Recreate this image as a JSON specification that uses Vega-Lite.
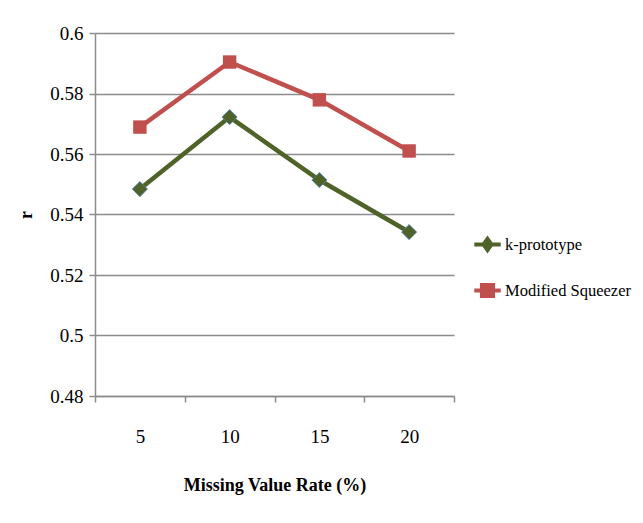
{
  "$schema": "https://vega.github.io/schema/vega-lite/v6.json",
  "width": 359,
  "height": 363,
  "autosize": {"type": "none"},
  "padding": {"left": 95, "top": 33, "right": 189, "bottom": 127},
  "background": "white",
  "config": {
    "view": {"stroke": null},
    "font": "Liberation Serif",
    "axis": {
      "labelFont": "Liberation Serif",
      "titleFont": "Liberation Serif",
      "labelColor": "black",
      "titleColor": "black",
      "domainColor": "#8c8c8c",
      "tickColor": "#8c8c8c",
      "gridColor": "#8c8c8c",
      "domainWidth": 1.5,
      "tickWidth": 1.5,
      "gridWidth": 1.5
    }
  },
  "data": {
    "values": [
      {"rate": "5", "series": "k-prototype", "r": 0.5484},
      {"rate": "10", "series": "k-prototype", "r": 0.5722},
      {"rate": "15", "series": "k-prototype", "r": 0.5514},
      {"rate": "20", "series": "k-prototype", "r": 0.5342},
      {"rate": "5", "series": "Modified Squeezer", "r": 0.5689},
      {"rate": "10", "series": "Modified Squeezer", "r": 0.5904},
      {"rate": "15", "series": "Modified Squeezer", "r": 0.5779},
      {"rate": "20", "series": "Modified Squeezer", "r": 0.5610}
    ]
  },
  "encoding": {
    "x": {
      "field": "rate",
      "type": "ordinal",
      "sort": ["5", "10", "15", "20"],
      "scale": {"paddingInner": 0, "paddingOuter": 0},
      "axis": {
        "title": "Missing Value Rate (%)",
        "titleFontSize": 18,
        "titleFontWeight": "bold",
        "titlePadding": 30,
        "labelFontSize": 19,
        "labelAngle": 0,
        "labelPadding": 25,
        "tickBand": "extent",
        "tickSize": 6,
        "grid": false
      }
    },
    "y": {
      "field": "r",
      "type": "quantitative",
      "scale": {"domain": [0.48, 0.6], "nice": false, "zero": false},
      "axis": {
        "title": "r",
        "titleFontSize": 18,
        "titleFontWeight": "bold",
        "titlePadding": 14,
        "labelFontSize": 19,
        "labelPadding": 6,
        "labelOverlap": false,
        "format": "~g",
        "values": [0.48, 0.5, 0.52, 0.54, 0.56, 0.58, 0.6],
        "tickSize": 6,
        "grid": true
      }
    },
    "color": {
      "field": "series",
      "type": "nominal",
      "scale": {"domain": ["k-prototype", "Modified Squeezer"], "range": ["#4f6228", "#c0504d"]},
      "legend": {
        "title": null,
        "orient": "none",
        "legendX": 377,
        "legendY": 196,
        "labelFontSize": 16.5,
        "labelColor": "black",
        "labelFont": "Liberation Serif",
        "labelLimit": 200,
        "rowPadding": 16,
        "symbolSize": 700,
        "symbolOffset": 0,
        "labelOffset": 2,
        "symbolStrokeWidth": 4,
        "symbolType": "stroke",
        "encode": {
          "symbols": {
            "update": {
              "shape": {"signal": "datum.value === 'k-prototype' ? 'M-1,0L1,0M-0.3,0L0,-0.42L0.3,0L0,0.42Z' : 'M-1,0L1,0M-0.42,-0.42L0.42,-0.42L0.42,0.42L-0.42,0.42Z'"},
              "fill": {"signal": "datum.value === 'k-prototype' ? '#4f6228' : '#c0504d'"},
              "fillOpacity": {"value": 1}
            }
          }
        }
      }
    }
  },
  "layer": [
    {
      "mark": {"type": "line", "strokeWidth": 4.5},
      "encoding": {"detail": {"field": "series"}}
    },
    {
      "transform": [{"filter": "datum.series === 'k-prototype'"}],
      "mark": {"type": "point", "shape": "diamond", "filled": true, "size": 230, "opacity": 1, "stroke": "#4f81bd", "strokeWidth": 0.8},
      "encoding": {"fill": {"value": "#4f6228"}}
    },
    {
      "transform": [{"filter": "datum.series === 'Modified Squeezer'"}],
      "mark": {"type": "square", "size": 180, "opacity": 1},
      "encoding": {"color": {"value": "#c0504d"}}
    }
  ]
}
